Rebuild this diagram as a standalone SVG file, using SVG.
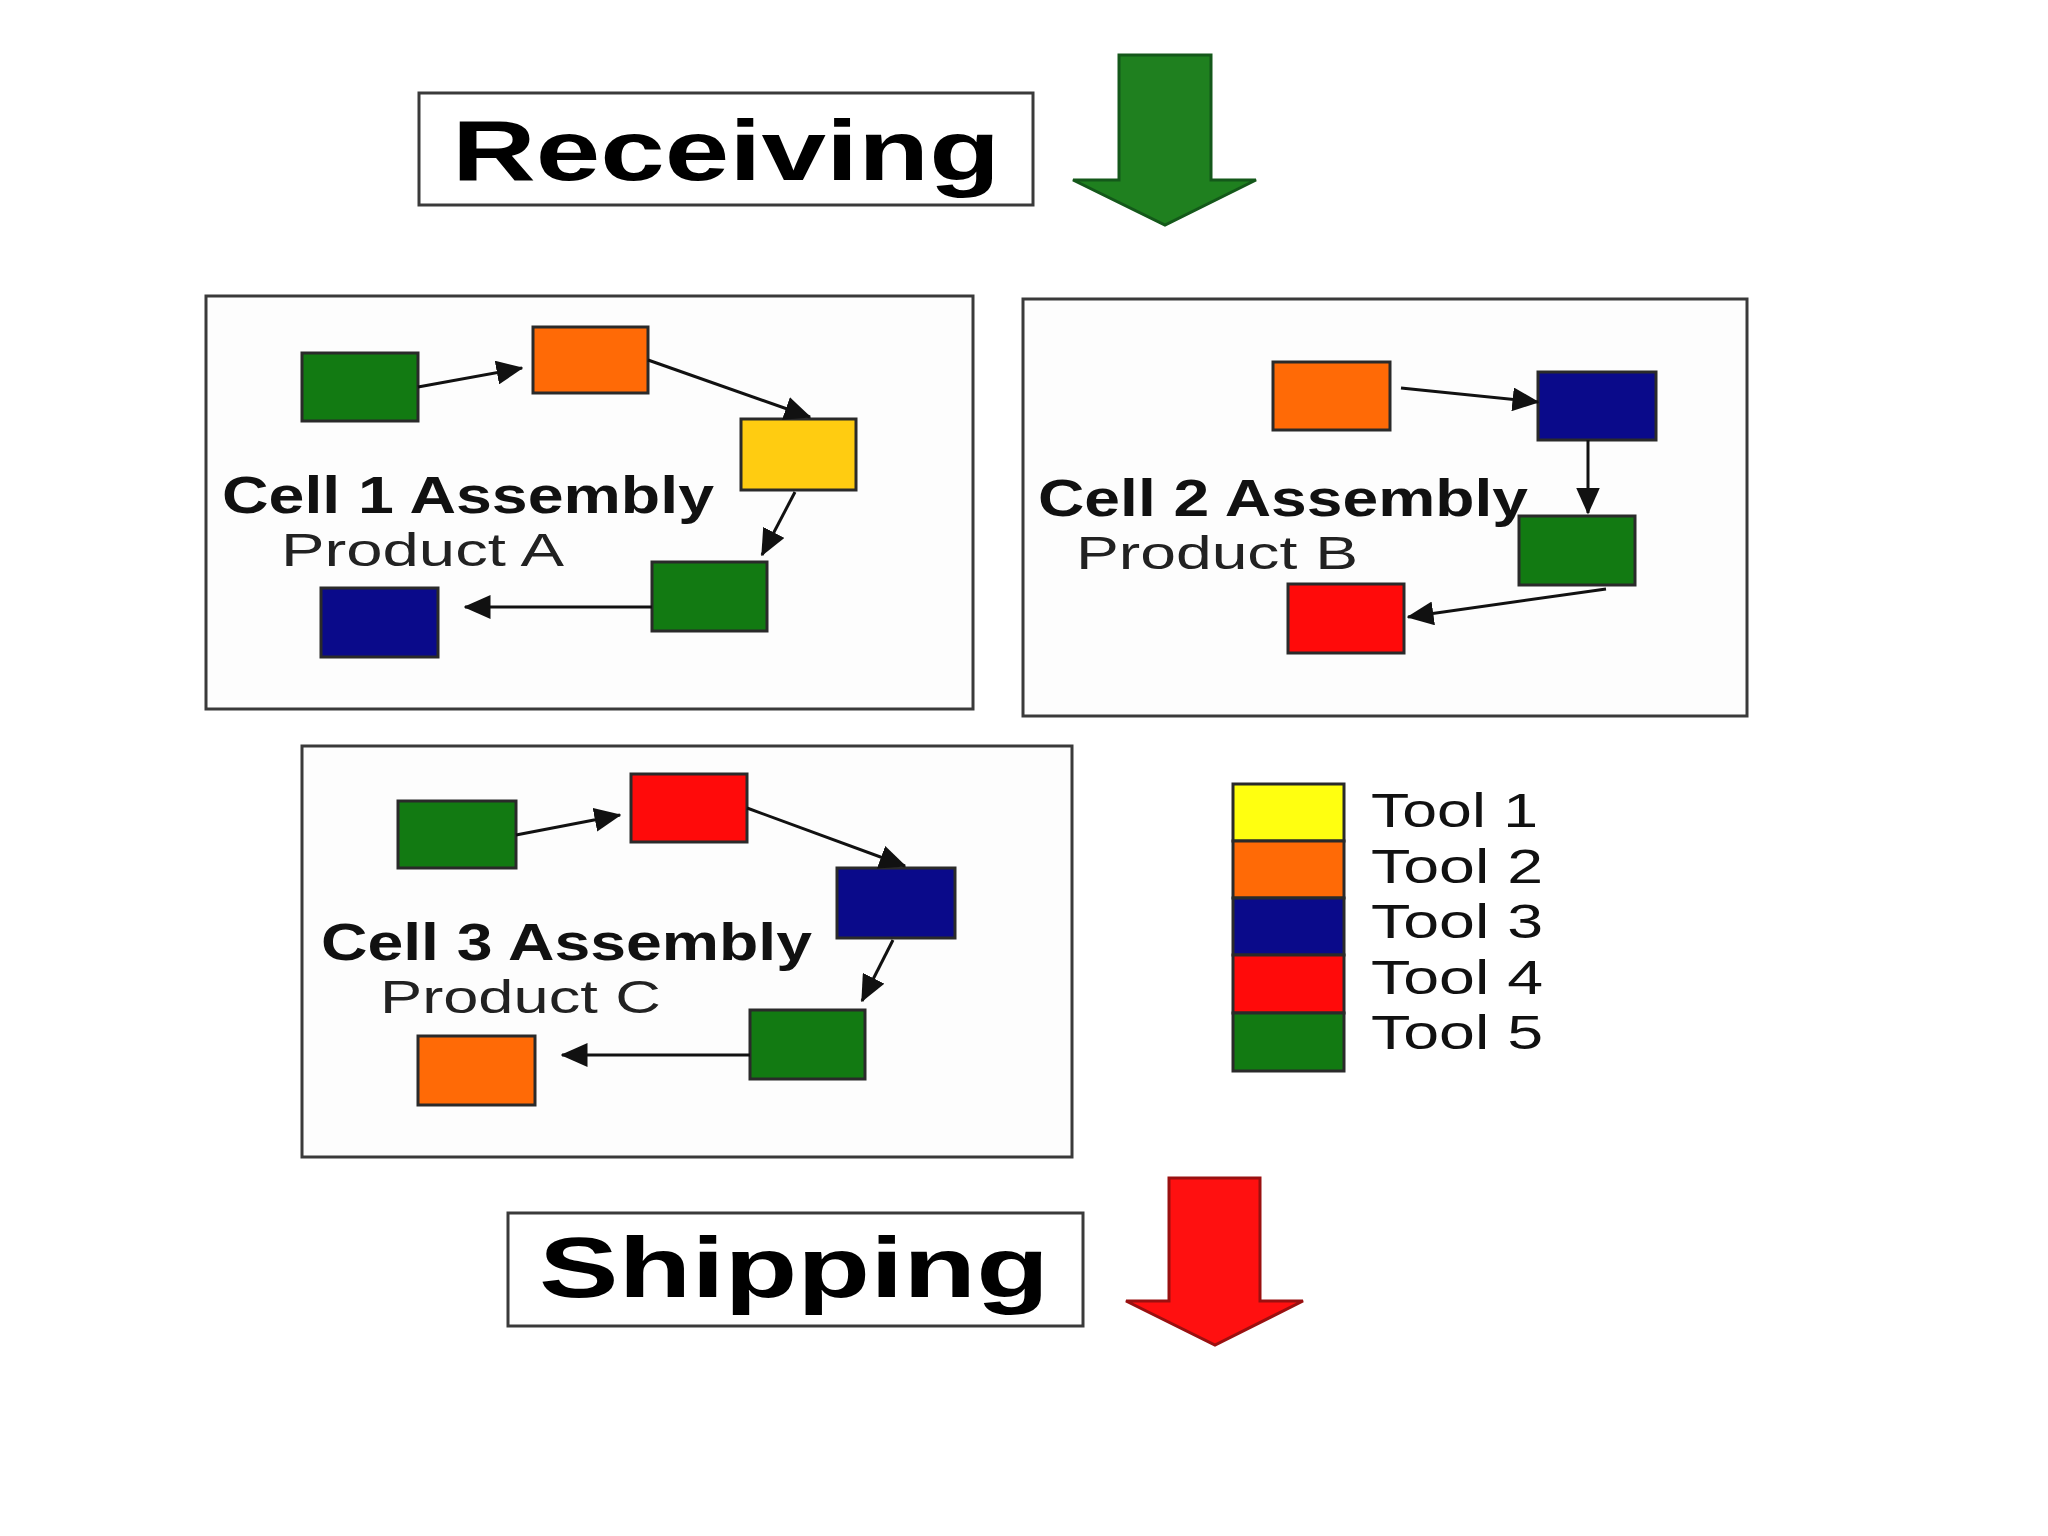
<svg xmlns="http://www.w3.org/2000/svg" width="2048" height="1536" viewBox="0 0 2048 1536">
<style>
.frame{fill:#fff;stroke:#3a3a3a;stroke-width:3}
.cell{fill:#fdfdfd;stroke:#3a3a3a;stroke-width:3}
.n{stroke:#2a2a2a;stroke-width:3}
.g{fill:#127a12}.o{fill:#ff6a06}.y{fill:#ffcc11}.b{fill:#0a0a8a}.r{fill:#ff0a0a}
.big{font-family:"Liberation Sans",Arial,sans-serif;font-weight:bold;font-size:86px;fill:#000}
.title{font-family:"Liberation Sans",Arial,sans-serif;font-weight:bold;font-size:52px;fill:#111}
.sub{font-family:"Liberation Sans",Arial,sans-serif;font-size:46px;fill:#222}
.tool{font-family:"Liberation Sans",Arial,sans-serif;font-size:48px;fill:#111}
.c{stroke:#111;stroke-width:3;fill:none;marker-end:url(#ah)}
</style>
<defs>
<marker id="ah" markerWidth="9" markerHeight="8" refX="8.5" refY="4" orient="auto" markerUnits="strokeWidth">
<path d="M0,0 L9,4 L0,8 z" fill="#111"/>
</marker>
</defs>
<rect width="2048" height="1536" fill="#fff"/>

<g id="receiving">
<rect class="frame" x="419" y="93" width="614" height="112"/>
<text class="big" x="452" y="180" textLength="548" lengthAdjust="spacingAndGlyphs">Receiving</text>
</g>
<g id="receiving-arrow">
<path d="M1119,55 L1211,55 L1211,180 L1256,180 L1165,225 L1073,180 L1119,180 Z" fill="#1f801f" stroke="#14581a" stroke-width="3"/>
</g>

<g id="cell1">
<rect class="cell" x="206" y="296" width="767" height="413"/>
<text class="title" x="222" y="513" textLength="492" lengthAdjust="spacingAndGlyphs">Cell 1 Assembly</text>
<text class="sub" x="281" y="566" textLength="283" lengthAdjust="spacingAndGlyphs">Product A</text>
<rect id="c1n1" class="n g" x="302" y="353" width="116" height="68"/>
<rect id="c1n2" class="n o" x="533" y="327" width="115" height="66"/>
<rect id="c1n3" class="n y" x="741" y="419" width="115" height="71"/>
<rect id="c1n4" class="n g" x="652" y="562" width="115" height="69"/>
<rect id="c1n5" class="n b" x="321" y="588" width="117" height="69"/>
</g>

<g id="cell2">
<rect class="cell" x="1023" y="299" width="724" height="417"/>
<text class="title" x="1038" y="516" textLength="490" lengthAdjust="spacingAndGlyphs">Cell 2 Assembly</text>
<text class="sub" x="1076" y="569" textLength="282" lengthAdjust="spacingAndGlyphs">Product B</text>
<rect id="c2n1" class="n o" x="1273" y="362" width="117" height="68"/>
<rect id="c2n2" class="n b" x="1538" y="372" width="118" height="68"/>
<rect id="c2n3" class="n g" x="1519" y="516" width="116" height="69"/>
<rect id="c2n4" class="n r" x="1288" y="584" width="116" height="69"/>
</g>

<g id="cell3">
<rect class="cell" x="302" y="746" width="770" height="411"/>
<text class="title" x="321" y="960" textLength="491" lengthAdjust="spacingAndGlyphs">Cell 3 Assembly</text>
<text class="sub" x="380" y="1013" textLength="281" lengthAdjust="spacingAndGlyphs">Product C</text>
<rect id="c3n1" class="n g" x="398" y="801" width="118" height="67"/>
<rect id="c3n2" class="n r" x="631" y="774" width="116" height="68"/>
<rect id="c3n3" class="n b" x="837" y="868" width="118" height="70"/>
<rect id="c3n4" class="n g" x="750" y="1010" width="115" height="69"/>
<rect id="c3n5" class="n o" x="418" y="1036" width="117" height="69"/>
</g>

<g id="connectors">
<line class="c" x1="418" y1="387" x2="522" y2="368"/>
<line class="c" x1="648" y1="360" x2="810" y2="417"/>
<line class="c" x1="795" y1="492" x2="762" y2="555"/>
<line class="c" x1="652" y1="607" x2="465" y2="607"/>
<line class="c" x1="1401" y1="388" x2="1538" y2="402"/>
<line class="c" x1="1588" y1="440" x2="1588" y2="513"/>
<line class="c" x1="1606" y1="589" x2="1408" y2="617"/>
<line class="c" x1="516" y1="835" x2="620" y2="815"/>
<line class="c" x1="747" y1="808" x2="905" y2="866"/>
<line class="c" x1="893" y1="940" x2="862" y2="1001"/>
<line class="c" x1="750" y1="1055" x2="562" y2="1055"/>
</g>

<g id="legend">
<rect x="1233" y="784" width="111" height="57" fill="#ffff10" class="n"/>
<rect x="1233" y="841" width="111" height="57" class="n o"/>
<rect x="1233" y="898" width="111" height="57" class="n b"/>
<rect x="1233" y="955" width="111" height="58" class="n r"/>
<rect x="1233" y="1013" width="111" height="58" class="n g"/>
<text class="tool" x="1371" y="827" textLength="167" lengthAdjust="spacingAndGlyphs">Tool 1</text>
<text class="tool" x="1371" y="883" textLength="172" lengthAdjust="spacingAndGlyphs">Tool 2</text>
<text class="tool" x="1371" y="938" textLength="172" lengthAdjust="spacingAndGlyphs">Tool 3</text>
<text class="tool" x="1371" y="994" textLength="172" lengthAdjust="spacingAndGlyphs">Tool 4</text>
<text class="tool" x="1371" y="1049" textLength="172" lengthAdjust="spacingAndGlyphs">Tool 5</text>
</g>

<g id="shipping">
<rect class="frame" x="508" y="1213" width="575" height="113"/>
<text class="big" x="539" y="1297" textLength="510" lengthAdjust="spacingAndGlyphs">Shipping</text>
</g>
<g id="shipping-arrow">
<path d="M1169,1178 L1260,1178 L1260,1301 L1303,1301 L1215,1345 L1126,1301 L1169,1301 Z" fill="#ff1010" stroke="#9a1010" stroke-width="3"/>
</g>
</svg>
